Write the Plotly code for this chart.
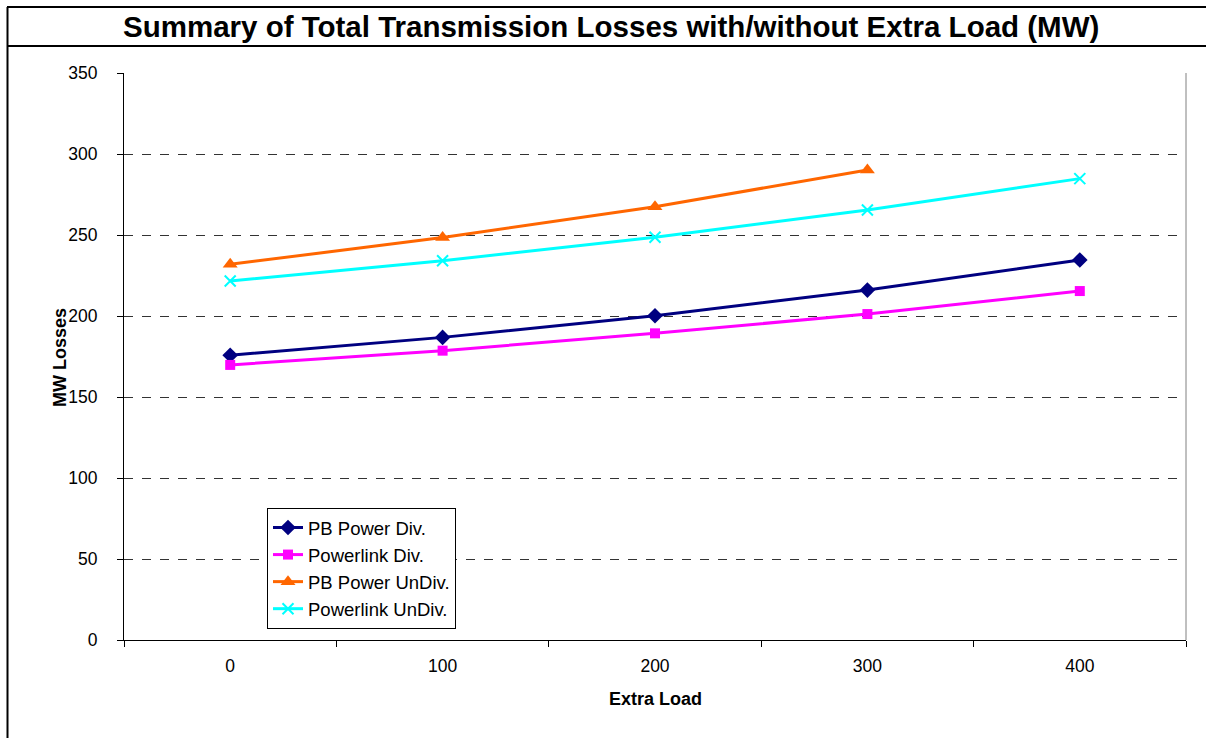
import plotly.graph_objects as go

extra_load = ["0", "100", "200", "300", "400"]
pb_power_div = [175.8, 186.8, 200.2, 216.0, 234.6]
powerlink_div = [169.8, 178.6, 189.3, 201.2, 215.4]
pb_power_undiv = [231.9, 248.4, 267.5, 290.1, None]
powerlink_undiv = [221.6, 234.1, 248.6, 265.4, 284.8]

W, H = 1206, 738
L, R, T, B = 124, 1186, 73, 640

def px(x):
    return (x - L) / (R - L)

def py(y):
    return (B - y) / (B - T)

fig = go.Figure()
series = [
    ("PB Power Div.", pb_power_div, "#000080", "diamond", 12, 0),
    ("Powerlink Div.", powerlink_div, "#FF00FF", "square", 10, 0),
    ("PB Power UnDiv.", pb_power_undiv, "#FF6600", "triangle-up", 13, 0),
    ("Powerlink UnDiv.", powerlink_undiv, "#00FFFF", "x-thin", 11, 2),
]
for name, vals, col, sym, sz, lw in series:
    fig.add_trace(go.Scatter(
        x=extra_load, y=vals, name=name, mode="lines+markers",
        line=dict(color=col, width=3),
        marker=dict(symbol=sym, size=sz, color=col, line=dict(color=col, width=lw)),
        connectgaps=False,
    ))

font = "Liberation Sans, Arial, sans-serif"
fig.update_layout(
    width=W, height=H,
    margin=dict(l=L, r=W - R, t=T, b=H - B, pad=0),
    paper_bgcolor="white", plot_bgcolor="white",
    font=dict(family=font, size=18, color="black"),
    showlegend=True,
    legend=dict(
        x=px(267), y=py(508), xanchor="left", yanchor="top",
        bordercolor="black", borderwidth=1, bgcolor="white",
        font=dict(size=18.5, family=font), tracegroupgap=0,
        itemwidth=30,
    ),
    xaxis=dict(
        type="category", tickson="boundaries", ticks="outside", ticklen=6,
        tickcolor="black", showline=True, linecolor="black", linewidth=1,
        showgrid=False, zeroline=False, range=[-0.5, 4.5],
        tickfont=dict(size=17.5), ticklabelstandoff=10,
    ),
    yaxis=dict(
        range=[0, 350], dtick=50, ticks="outside", ticklen=6, tickcolor="black",
        showline=True, linecolor="black", linewidth=1,
        showgrid=True, gridcolor="#333333", griddash="dash", gridwidth=1,
        zeroline=False, tickfont=dict(size=17.5), ticklabelstandoff=16,
    ),
    annotations=[
        dict(text="<b>Summary of Total Transmission Losses with/without Extra Load (MW)</b>",
             xref="paper", yref="paper", x=px(611), y=py(27), xanchor="center", yanchor="middle",
             showarrow=False, font=dict(size=29.5, family=font)),
        dict(text="<b>Extra Load</b>", xref="paper", yref="paper", x=px(655), y=py(699),
             xanchor="center", yanchor="middle", showarrow=False, font=dict(size=18, family=font)),
        dict(text="<b>MW Losses</b>", xref="paper", yref="paper", x=px(60), y=py(358),
             xanchor="center", yanchor="middle", showarrow=False, textangle=-90,
             font=dict(size=18, family=font)),
    ],
    shapes=[
        dict(type="line", xref="paper", yref="paper", x0=px(7.5), x1=px(7.5), y0=py(7), y1=py(740),
             line=dict(color="black", width=2)),
        dict(type="line", xref="paper", yref="paper", x0=px(7), x1=px(1210), y0=py(7), y1=py(7),
             line=dict(color="black", width=2)),
        dict(type="line", xref="paper", yref="paper", x0=px(7), x1=px(1210), y0=py(46), y1=py(46),
             line=dict(color="black", width=2)),
        dict(type="line", xref="paper", yref="paper", x0=1, x1=1, y0=0, y1=1,
             line=dict(color="#808080", width=1)),
    ],
)

fig.write_html(
    "out.html",
    config={"displayModeBar": False},
    post_script="document.body.style.margin='0';document.body.style.overflow='hidden';",
)
